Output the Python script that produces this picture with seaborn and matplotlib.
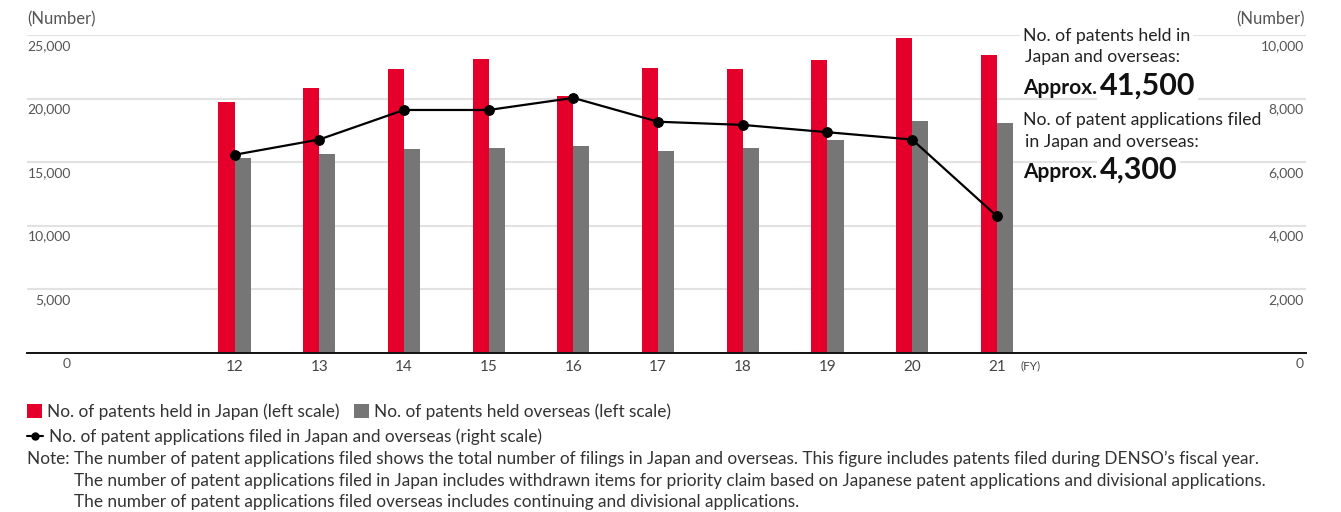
import numpy as np
import pandas as pd
import matplotlib
matplotlib.use("Agg")
import matplotlib.pyplot as plt
from matplotlib.transforms import ScaledTranslation
from matplotlib.patches import Patch
from matplotlib.lines import Line2D
import seaborn as sns

# ---- data ----
years = ["12", "13", "14", "15", "16", "17", "18", "19", "20", "21"]
japan = [19700, 20800, 22300, 23100, 20200, 22400, 22300, 23050, 24800, 23400]
overseas = [15300, 15600, 16000, 16100, 16300, 15900, 16100, 16700, 18200, 18100]
applications = [6230, 6710, 7640, 7640, 8020, 7270, 7170, 6940, 6710, 4300]
left_ticks = [0, 5000, 10000, 15000, 20000, 25000]
right_ticks = [0, 2000, 4000, 6000, 8000, 10000]
series_names = ["No. of patents held in Japan (left scale)",
                "No. of patents held overseas (left scale)"]
line_name = "No. of patent applications filed in Japan and overseas (right scale)"
notes = [
    "Note: The number of patent applications filed shows the total number of filings in Japan and overseas. This figure includes patents filed during DENSO\u2019s fiscal year.",
    "The number of patent applications filed in Japan includes withdrawn items for priority claim based on Japanese patent applications and divisional applications.",
    "The number of patent applications filed overseas includes continuing and divisional applications.",
]

RED = "#E4002B"
GRAY = "#767676"
GRID = "#E2E2E2"
TXT = "#333333"

sns.set_style("white")
plt.rcParams["font.family"] = ["Lato", "DejaVu Sans"]

W, H = 1341, 512
fig = plt.figure(figsize=(W / 100, H / 100), dpi=100)
ax = fig.add_axes([27 / W, 1 - 352.7 / H, (1306 - 27) / W, (352.7 - 35) / H])

df = pd.DataFrame({
    "FY": years * 2,
    "count": japan + overseas,
    "type": [series_names[0]] * len(years) + [series_names[1]] * len(years),
})
sns.barplot(data=df, x="FY", y="count", hue="type", palette=[RED, GRAY],
            width=0.38, gap=0, saturation=1, linewidth=0, legend=False, ax=ax)

ax2 = ax.twinx()
xpos = np.arange(len(years))
sns.lineplot(x=xpos, y=applications, ax=ax2, color="black", linewidth=1.6,
             marker="o", markersize=7, markeredgecolor="black", zorder=5)

# axes styling
ax.set_ylim(0, 25000)
ax2.set_ylim(0, 10000)
ax.set_xlim(-2.45, len(years) - 1 + 3.65)
ax.set_xlabel("")
ax.set_ylabel("")
ax2.set_xlabel("")
ax2.set_ylabel("")
for a in (ax, ax2):
    for s in a.spines.values():
        s.set_visible(False)
ax.spines["bottom"].set_visible(True)
ax.spines["bottom"].set_color("#111111")
ax.spines["bottom"].set_linewidth(1.4)
ax.spines["bottom"].set_zorder(6)

ax.set_yticks(left_ticks)
ax.set_yticklabels([f"{v:,}" for v in left_ticks])
ax2.set_yticks(right_ticks)
ax2.set_yticklabels([f"{v:,}" for v in right_ticks])
ax.yaxis.grid(True, color=GRID, linewidth=1.5)
ax.set_axisbelow(True)

ax.tick_params(axis="y", length=0, pad=-31.5, labelsize=10, labelcolor="#555555")
ax2.tick_params(axis="y", length=0, pad=-1.5, labelsize=10, labelcolor="#555555")
for lbl in ax2.get_yticklabels():
    lbl.set_horizontalalignment("right")
down = ScaledTranslation(0, -10 / 100, fig.dpi_scale_trans)
for lbl in ax.get_yticklabels() + ax2.get_yticklabels():
    lbl.set_transform(lbl.get_transform() + down)

ax.set_xticks(xpos)
ax.set_xticklabels(years)
ax.tick_params(axis="x", length=0, pad=5, labelsize=11, labelcolor="#444444")
ax.annotate("(FY)", xy=(len(years) - 1, 0), xycoords=("data", "axes fraction"),
            xytext=(34, -13), textcoords="offset pixels", ha="center", va="center",
            fontsize=8.5, color="#444444", annotation_clip=False)

# axis unit labels
fig.text(27 / W, 1 - 19 / H, "(Number)", ha="left", va="center", fontsize=12, color="#555555")
fig.text(1305 / W, 1 - 19 / H, "(Number)", ha="right", va="center", fontsize=12, color="#555555")

# annotation block
box = dict(facecolor="white", edgecolor="none", pad=2)
AF = 12.7
fig.text(1023 / W, 1 - 36 / H, "No. of patents held in", ha="left", va="center",
         fontsize=AF, color="#222222", bbox=box, zorder=10)
fig.text(1025 / W, 1 - 57 / H, "Japan and overseas:", ha="left", va="center",
         fontsize=AF, color="#222222", bbox=box, zorder=10)
fig.text(1023 / W, 1 - 94 / H, "Approx.", ha="left", va="baseline",
         fontsize=15, fontweight="bold", color="#111111", zorder=10)
fig.text(1100 / W, 1 - 95 / H, "41,500", ha="left", va="baseline",
         fontsize=22, fontweight="bold", color="#111111", bbox=box, zorder=10)
fig.text(1023 / W, 1 - 120 / H, "No. of patent applications filed", ha="left", va="center",
         fontsize=AF, color="#222222", bbox=box, zorder=10)
fig.text(1025 / W, 1 - 142 / H, "in Japan and overseas:", ha="left", va="center",
         fontsize=AF, color="#222222", bbox=box, zorder=10)
fig.text(1023 / W, 1 - 178 / H, "Approx.", ha="left", va="baseline",
         fontsize=15, fontweight="bold", color="#111111", zorder=10)
fig.text(1100 / W, 1 - 179 / H, "4,300", ha="left", va="baseline",
         fontsize=22, fontweight="bold", color="#111111", bbox=box, zorder=10)

# legends
LF = 12.4
h1 = [Patch(facecolor=RED, edgecolor="none"), Patch(facecolor=GRAY, edgecolor="none")]
leg1 = fig.legend(h1, series_names, loc="center left", bbox_to_anchor=(27 / W, 1 - 412 / H),
                  ncol=2, frameon=False, fontsize=LF, handlelength=0.85, handleheight=0.85,
                  handletextpad=0.3, columnspacing=0.85, borderpad=0, borderaxespad=0,
                  labelcolor=TXT)
h2 = [Line2D([], [], color="black", marker="o", markersize=5, linewidth=1.5)]
leg2 = fig.legend(h2, [line_name], loc="center left", bbox_to_anchor=(27 / W, 1 - 437 / H),
                  frameon=False, fontsize=LF, handlelength=0.95, handletextpad=0.3,
                  borderpad=0, borderaxespad=0, labelcolor=TXT)

fig.text(27 / W, 1 - 459 / H, notes[0], ha="left", va="center", fontsize=LF, color=TXT)
fig.text(74 / W, 1 - 481 / H, notes[1], ha="left", va="center", fontsize=LF, color=TXT)
fig.text(74 / W, 1 - 502 / H, notes[2], ha="left", va="center", fontsize=LF, color=TXT)

fig.savefig("out.png", dpi=100)
